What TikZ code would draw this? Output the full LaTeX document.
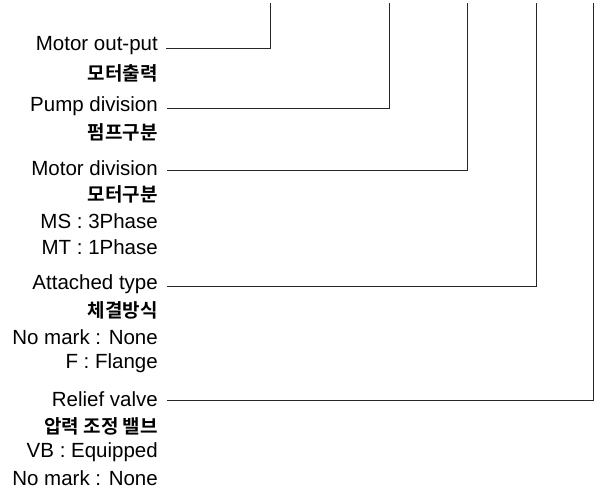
\documentclass[tikz,border=0pt]{standalone}
\usepackage{fontspec}
\setmainfont{Liberation Sans}
\newfontfamily\kor{Noto Sans CJK KR}[BoldFont={Noto Sans CJK KR Bold}]
\begin{document}
\begin{tikzpicture}[x=1pt,y=-1pt,
  lbl/.style={anchor=east,inner sep=0pt,font=\fontsize{20.5}{20.5}\selectfont},
  klbl/.style={anchor=east,inner sep=0pt,font=\kor\fontsize{19}{19}\selectfont\bfseries},
  lead/.style={draw=black!85,line width=0.8pt}]
\useasboundingbox (0,0) rectangle (596,493);
\node[lbl] (mo) at (158,46) {Motor out-put};
\node[klbl] (mok) at (158,73) {모터출력};
\node[lbl] (pd) at (158,106) {Pump division};
\node[klbl] (pdk) at (158,132) {펌프구분};
\node[lbl] (md) at (158,168) {Motor division};
\node[klbl] (mdk) at (158,194) {모터구분};
\node[lbl] (ms) at (158,221) {MS : 3Phase};
\node[lbl] (mt) at (158,247) {MT : 1Phase};
\node[lbl] (at) at (158,284) {Attached type};
\node[klbl] (atk) at (158,310) {체결방식};
\node[lbl] (nm1) at (158,337) {No mark : None};
\node[lbl] (fl) at (158,363) {F : Flange};
\node[lbl] (rv) at (158,399) {Relief valve};
\node[klbl] (rvk) at (158,426) {압력 조정 밸브};
\node[lbl] (vb) at (158,452) {VB : Equipped};
\node[lbl] (nm2) at (158,478) {No mark : None};
\coordinate (t1) at (270,3);
\coordinate (t2) at (389,3);
\coordinate (t3) at (467,3);
\coordinate (t4) at (536,3);
\coordinate (t5) at (593,3);
\draw[lead] (mo.east) ++(8,2) -| (t1);
\draw[lead] (pd.east) ++(9,2) -| (t2);
\draw[lead] (md.east) ++(9,2) -| (t3);
\draw[lead] (at.east) ++(9,2) -| (t4);
\draw[lead] (rv.east) ++(9,1) -| (t5);
\end{tikzpicture}
\end{document}
